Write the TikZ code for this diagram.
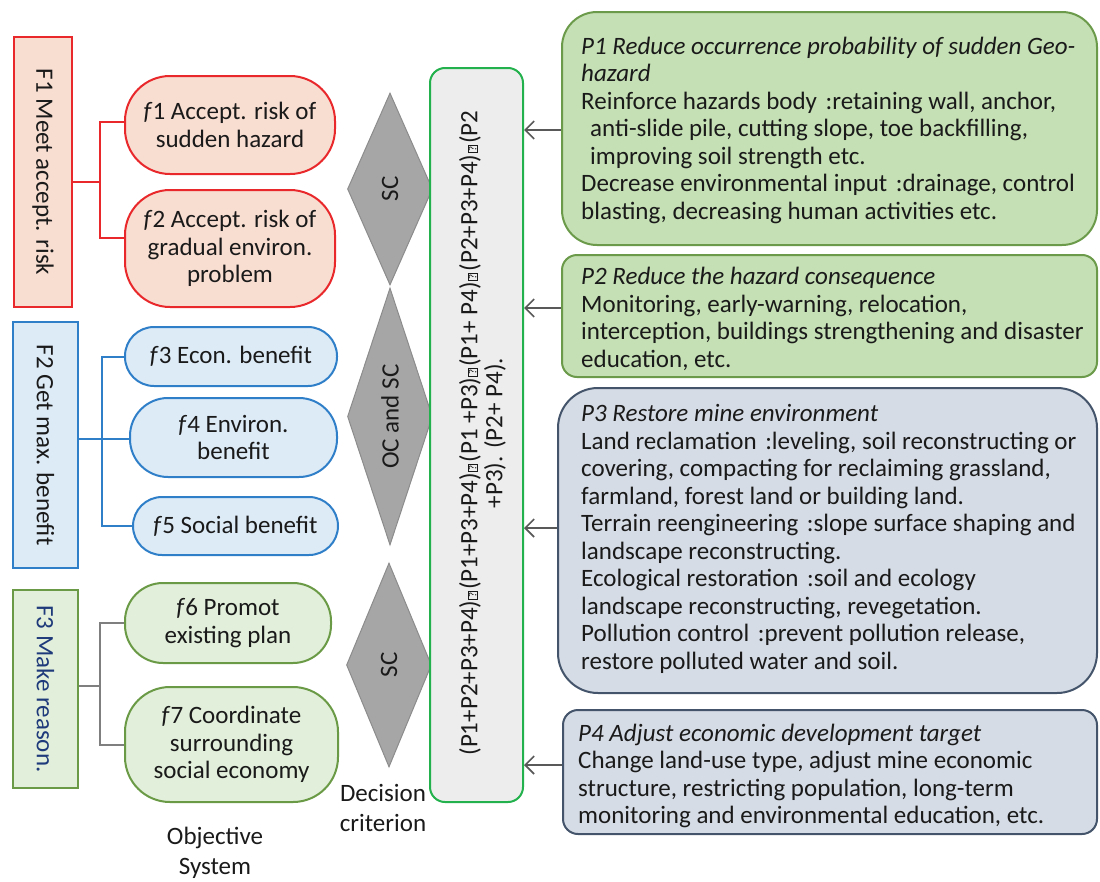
\documentclass[tikz,border=0pt]{standalone}
\usepackage{fontspec}
\usepackage{graphicx}
\setmainfont{Carlito}
\usetikzlibrary{shapes.geometric,arrows.meta}

\definecolor{redline}{HTML}{E8282B}
\definecolor{redfill}{HTML}{F8DDD1}
\definecolor{blueline}{HTML}{2F7FC8}
\definecolor{bluefill}{HTML}{DDEBF7}
\definecolor{greenline}{HTML}{6A9A45}
\definecolor{greenfill}{HTML}{E2EFDA}
\definecolor{navytext}{HTML}{1F3A7A}
\definecolor{graylink}{HTML}{7F7F7F}
\definecolor{diafill}{HTML}{A6A6A6}
\definecolor{dialine}{HTML}{8C8C8C}
\definecolor{midline}{HTML}{22B14C}
\definecolor{midfill}{HTML}{EDEDED}
\definecolor{pgfill}{HTML}{C5E0B4}
\definecolor{pgline}{HTML}{6B9B4A}
\definecolor{pbfill}{HTML}{D6DCE5}
\definecolor{pbline}{HTML}{44546A}
\definecolor{arrowcol}{HTML}{595959}
\definecolor{ink}{HTML}{1A1A1A}

% boxed question mark standing in for an unavailable separator glyph
\newcommand\qsq{\kern1.5pt\raisebox{1pt}{\setlength{\fboxsep}{0.8pt}\setlength{\fboxrule}{0.6pt}\fbox{\fontsize{11pt}{11pt}\selectfont ?}}\kern1.5pt}
% gap before the colon in the measure lists
\newcommand\cgap{\ \kern3pt}

\tikzset{
  base/.style={font={\fontsize{25pt}{27.5pt}\selectfont}, text=ink, inner sep=0pt},
  Fbox/.style={base, rectangle, line width=2pt},
  fnode/.style={base, rectangle, rounded corners=#1, line width=2pt, align=center},
  dia/.style={base, diamond, draw=dialine, fill=diafill, line width=1pt, rotate=90},
  pbox/.style={rectangle, rounded corners=#1, line width=2pt},
  ptext/.style={base, align=left, anchor=west},
  link/.style={line width=2pt},
  feed/.style={line width=1.6pt, draw=arrowcol, -{Straight Barb[length=9pt,width=18pt]}}
}

\begin{document}
\begin{tikzpicture}[x=1pt,y=-1pt]
\useasboundingbox (0,0) rectangle (1100,881);

% ---- objective system ----
\node[Fbox, draw=redline, fill=redfill, minimum width=58pt, minimum height=270pt] (F1) at (43,172)
  {\rotatebox{-90}{F1 Meet accept. risk}};
\node[Fbox, draw=blueline, fill=bluefill, minimum width=65pt, minimum height=246pt] (F2) at (45.5,445)
  {\rotatebox{-90}{F2 Get max. benefit}};
\node[Fbox, draw=greenline, fill=greenfill, minimum width=65pt, minimum height=198pt, text=navytext] (F3) at (45.5,689)
  {\rotatebox{-90}{F3 Make reason.}};

\node[fnode=45pt, draw=redline, fill=redfill, minimum width=210pt, minimum height=98pt] (f1) at (230,125)
  {\textit{f}1 Accept. risk of\\sudden hazard};
\node[fnode=45pt, draw=redline, fill=redfill, minimum width=210pt, minimum height=117pt] (f2) at (230,248.5)
  {\textit{f}2 Accept. risk of\\gradual environ.\\problem};
\node[fnode=29pt, draw=blueline, fill=bluefill, minimum width=212pt, minimum height=59pt] (f3) at (231,356.5)
  {\textit{f}3 Econ. benefit};
\node[fnode=38pt, draw=blueline, fill=bluefill, minimum width=207pt, minimum height=79pt] (f4) at (233.5,437.5)
  {\textit{f}4 Environ.\\benefit};
\node[fnode=29pt, draw=blueline, fill=bluefill, minimum width=205pt, minimum height=58pt] (f5) at (235.5,526)
  {\textit{f}5 Social benefit};
\node[fnode=38pt, draw=greenline, fill=greenfill, minimum width=206pt, minimum height=80pt] (f6) at (228,623)
  {\textit{f}6 Promot\\existing plan};
\node[fnode=45pt, draw=greenline, fill=greenfill, minimum width=213pt, minimum height=115pt] (f7) at (231.5,744.5)
  {\textit{f}7 Coordinate\\surrounding\\social economy};

% tree links
\coordinate (j1) at (100,182);
\draw[link, redline] (F1.east |- j1) -- (j1);
\draw[link, redline] ([yshift=3pt]f1.west) -| (j1);
\draw[link, redline] ([yshift=11pt]f2.west) -| (j1);

\coordinate (j2) at (102,439);
\draw[link, blueline] (F2.east |- j2) -- (f4.west |- j2);
\draw[link, blueline] (f3.west) -| (j2);
\draw[link, blueline] (f5.west) -| (j2);

\coordinate (j3) at (100,686);
\draw[link, graylink] (F3.east |- j3) -- (j3);
\draw[link, graylink] (f6.west) -| (j3);
\draw[link, graylink] (f7.west) -| (j3);

% ---- decision criteria ----
\node[dia, minimum width=192pt, minimum height=85pt, aspect=2.26] (d1) at (390,189) {SC};
\node[dia, minimum width=257pt, minimum height=85pt, aspect=3.0] (d2) at (390,416.5) {OC and SC};
\node[dia, minimum width=204pt, minimum height=85pt, aspect=2.4] (d3) at (389,665) {SC};

\node[rectangle, rounded corners=15pt, draw=midline, fill=midfill, line width=2pt,
      minimum width=93pt, minimum height=734pt] (crit) at (476.5,435) {};
\node[base, rotate=90, align=center, font={\fontsize{25pt}{25pt}\selectfont}] (combo) at (482.5,433)
  {(P1+P2+P3+P4)\qsq(P1+P3+P4)\qsq(P1 +P3)\qsq(P1+ P4)\qsq(P2+P3+P4)\qsq(P2\\+P3). (P2+ P4).};

% ---- measures ----
\node[pbox=35pt, draw=pgline, fill=pgfill, minimum width=535pt, minimum height=233pt] (P1) at (829.5,128.5) {};
\node[pbox=15pt, draw=pgline, fill=pgfill, minimum width=535pt, minimum height=122pt] (P2) at (829.5,316) {};
\node[pbox=40pt, draw=pbline, fill=pbfill, minimum width=539pt, minimum height=305pt] (P3) at (827.5,540.5) {};
\node[pbox=15pt, draw=pbline, fill=pbfill, minimum width=534pt, minimum height=124pt] (P4) at (830,772) {};

\node[ptext] (P1t) at (581,130)
  {\textit{P1 Reduce occurrence probability of sudden Geo-}\\
   \textit{hazard}\\
   Reinforce hazards body\cgap:retaining wall, anchor,\\
   \hspace*{9pt}anti-slide pile, cutting slope, toe backfilling,\\
   \hspace*{9pt}improving soil strength etc.\\
   Decrease environmental input\cgap:drainage, control\\
   blasting, decreasing human activities etc.};
\node[ptext] (P2t) at (581,319)
  {\textit{P2 Reduce the hazard consequence}\\
   Monitoring, early-warning, relocation,\\
   interception, buildings strengthening and disaster\\
   education, etc.};
\node[ptext] (P3t) at (581,539)
  {\textit{P3 Restore mine environment}\\
   Land reclamation\cgap:leveling, soil reconstructing or\\
   covering, compacting for reclaiming grassland,\\
   farmland, forest land or building land.\\
   Terrain reengineering\cgap:slope surface shaping and\\
   landscape reconstructing.\\
   Ecological restoration\cgap:soil and ecology\\
   landscape reconstructing, revegetation.\\
   Pollution control\cgap:prevent pollution release,\\
   restore polluted water and soil.};
\node[ptext] (P4t) at (578,776)
  {\textit{P4 Adjust economic development target}\\
   Change land-use type, adjust mine economic\\
   structure, restricting population, long-term\\
   monitoring and environmental education, etc.};

% feedback arrows into the combination box
\coordinate (a1) at ([yshift=-1.5pt]P1.west);
\coordinate (a2) at ([yshift=8pt]P2.west);
\coordinate (a3) at ([yshift=12.5pt]P3.west);
\coordinate (a4) at ([yshift=7pt]P4.west);
\draw[feed] (a1) -- (a1 -| crit.east);
\draw[feed] (a2) -- (a2 -| crit.east);
\draw[feed] (a3) -- (a3 -| crit.east);
\draw[feed] (a4) -- (a4 -| crit.east);

% ---- captions ----
\node[base, align=center, font={\fontsize{25pt}{30pt}\selectfont}] (objsys) at (215,853) {Objective\\System};
\node[base, align=center, font={\fontsize{25pt}{30pt}\selectfont}] (deccrit) at (383,808) {Decision\\criterion};
\end{tikzpicture}
\end{document}
